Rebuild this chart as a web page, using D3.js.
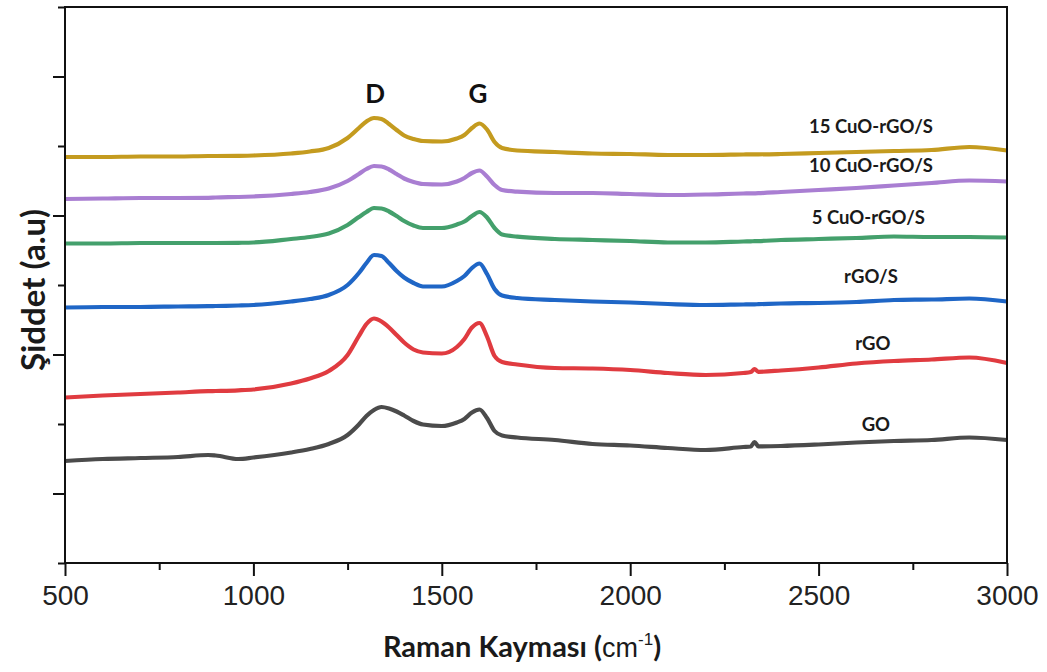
<!DOCTYPE html>
<html>
<head>
<meta charset="utf-8">
<script src="https://cdn.jsdelivr.net/npm/d3@7"></script>
<style>
  html, body { margin: 0; padding: 0; background: #fff; }
  svg { display: block; }
</style>
</head>
<body>
<svg id="chart" width="1047" height="672"></svg>
<script>
// Raman shift sampling points (cm^-1), shared by every spectrum
const wavenumbers = [500, 600, 700, 800, 880, 900, 960, 1000, 1100, 1150, 1200, 1250, 1280, 1300, 1320, 1340, 1360, 1380, 1400, 1425, 1450, 1500, 1540, 1560, 1580, 1600, 1620, 1640, 1660, 1700, 1800, 1900, 2000, 2100, 2200, 2300, 2320, 2330, 2340, 2400, 2500, 2600, 2700, 2800, 2900, 3000];

// Stacked intensities (a.u.) for each sample
const cuo15 = [406, 406, 406.5, 406.5, 407, 407, 407.2, 407.5, 409.5, 411.5, 415, 425, 435, 441.5, 445, 444, 439, 433, 427.5, 424, 422, 421.5, 424.5, 428, 435, 439.5, 433.5, 421, 415, 412.5, 411, 409.5, 409, 408, 408, 408.5, 408.6, 408.7, 408.7, 409, 410, 411, 412, 413, 416, 412.5];
const cuo10 = [364, 364.5, 365, 365, 365.2, 365.5, 366, 366.5, 369, 371, 374.5, 382, 389, 394, 397, 396.5, 393.5, 389, 384.5, 381, 379, 378.5, 381.5, 385, 390, 392.5, 386.5, 378, 373, 371.3, 370, 370, 369, 368, 368.5, 369.5, 369.6, 369.7, 369.8, 371, 373, 375, 377.5, 380, 382.5, 381.5];
const cuo5 = [319.5, 319.5, 320, 320, 320, 320, 320.2, 320.5, 324, 326, 329.5, 338, 346, 351, 355, 354.5, 351.5, 347, 342, 337.5, 335, 335, 338.5, 341.5, 347, 351, 345.5, 335, 328.5, 326.3, 324, 323, 322, 320.5, 320.5, 321.5, 321.7, 321.8, 321.9, 323, 324, 325, 326.5, 326, 326, 325.5];
const rgoS = [255.5, 256, 256, 256.5, 256.8, 257, 257.5, 258, 261.5, 264, 268, 278, 290, 300, 308, 307, 300, 292, 285.5, 280, 276.5, 276.5, 282, 287, 295, 299.5, 289, 274, 267.5, 265, 263, 261.5, 260.5, 259, 258, 258.5, 258.6, 258.7, 258.8, 259.5, 260, 261, 263, 263.5, 264.5, 261.5];
const rgo = [165.5, 167.5, 169, 170.5, 171.8, 172, 172.7, 173.5, 179.5, 184.5, 192, 208, 227, 239, 244.5, 241.5, 235.5, 228, 220.5, 213.5, 210.5, 209.5, 216, 224, 235.5, 240, 226.5, 207, 201, 198.5, 195, 194.5, 193, 190, 188, 190, 191, 194, 191.2, 192.5, 195.5, 199.5, 202, 203.5, 205.5, 200];
const go = [102, 104, 105, 106, 108, 107.5, 104, 105.5, 110.5, 114, 119, 128, 138.5, 147, 153, 156, 154.5, 151.5, 147.5, 142, 138.5, 137, 140.5, 144, 150.5, 153.5, 145, 132, 127.5, 125.5, 123, 119, 117.5, 115, 113, 116, 116.5, 121, 116.7, 117, 118.5, 120.5, 122, 123, 125.5, 123];

const seriesNames = ["15 CuO-rGO/S", "10 CuO-rGO/S", "5 CuO-rGO/S", "rGO/S", "rGO", "GO"];
const seriesValues = [cuo15, cuo10, cuo5, rgoS, rgo, go];
const seriesColors = ["#c49b1f", "#a97ed2", "#44a06c", "#1f66c6", "#e03b40", "#4b4b4b"];
// Where each series label sits: [Raman shift, intensity of baseline]
const labelAnchors = [[2639, 430], [2639, 391], [2632, 339], [2639, 280], [2644, 213], [2652, 132]];

// Band markers
const bandNames = ["D", "G"];
const bandPositions = [1323, 1596];

const xTicks = [500, 1000, 1500, 2000, 2500, 3000];
const xMinorTicks = [750, 1250, 1750, 2250, 2750];

const width = 1047, height = 672;
const margin = { top: 7, right: 40, bottom: 109, left: 65 };
const yMax = 556;

const svg = d3.select("#chart");
const x = d3.scaleLinear().domain([500, 3000]).range([margin.left, width - margin.right]);
const y = d3.scaleLinear().domain([0, yMax]).range([height - margin.bottom, margin.top]);

const yMajor = d3.range(1, 8, 2).map(k => k * yMax / 8);
const yMinor = d3.range(0, 9, 2).map(k => k * yMax / 8);

// Spectra
const line = d3.line()
  .x((d, i) => x(wavenumbers[i]))
  .y(d => y(d))
  .curve(d3.curveMonotoneX);

svg.append("g")
  .selectAll("path")
  .data(seriesValues)
  .join("path")
  .attr("fill", "none")
  .attr("stroke", (d, i) => seriesColors[i])
  .attr("stroke-width", 4.2)
  .attr("stroke-linejoin", "round")
  .attr("d", line);

// Frame
const axisColor = "#111";
svg.append("rect")
  .attr("x", x(500)).attr("y", y(yMax))
  .attr("width", x(3000) - x(500)).attr("height", y(0) - y(yMax))
  .attr("fill", "none").attr("stroke", axisColor).attr("stroke-width", 2);

// Bottom axis: labelled major ticks plus unlabelled minor ticks
const xAxis = svg.append("g").attr("transform", `translate(0,${y(0)})`)
  .call(d3.axisBottom(x).tickValues(xTicks).tickSize(13).tickPadding(9).tickFormat(d3.format("d")));
xAxis.select(".domain").remove();
xAxis.selectAll(".tick line").attr("stroke", axisColor).attr("stroke-width", 2);
xAxis.selectAll(".tick text")
  .attr("font-family", "'Liberation Sans', Arial, sans-serif")
  .attr("font-size", 28).attr("fill", "#222");

const xMinor = svg.append("g").attr("transform", `translate(0,${y(0)})`)
  .call(d3.axisBottom(x).tickValues(xMinorTicks).tickSize(7).tickFormat(""));
xMinor.select(".domain").remove();
xMinor.selectAll(".tick line").attr("stroke", axisColor).attr("stroke-width", 2);

// Left axis: ticks only
const yAxisMajor = svg.append("g").attr("transform", `translate(${x(500)},0)`)
  .call(d3.axisLeft(y).tickValues(yMajor).tickSize(12).tickFormat(""));
yAxisMajor.select(".domain").remove();
yAxisMajor.selectAll(".tick line").attr("stroke", axisColor).attr("stroke-width", 2);

const yAxisMinor = svg.append("g").attr("transform", `translate(${x(500)},0)`)
  .call(d3.axisLeft(y).tickValues(yMinor).tickSize(7).tickFormat(""));
yAxisMinor.select(".domain").remove();
yAxisMinor.selectAll(".tick line").attr("stroke", axisColor).attr("stroke-width", 2);

const boldFont = "Lato, 'Open Sans', sans-serif";

// Series labels
svg.append("g")
  .selectAll("text")
  .data(seriesNames)
  .join("text")
  .attr("x", (d, i) => x(labelAnchors[i][0]))
  .attr("y", (d, i) => y(labelAnchors[i][1]))
  .attr("text-anchor", "middle")
  .attr("font-family", boldFont)
  .attr("font-weight", "bold")
  .attr("font-size", 18.5)
  .attr("fill", "#1a1a1a")
  .text(d => d);

// D and G band labels
svg.append("g")
  .selectAll("text")
  .data(bandNames)
  .join("text")
  .attr("x", (d, i) => x(bandPositions[i]))
  .attr("y", y(460))
  .attr("text-anchor", "middle")
  .attr("font-family", boldFont)
  .attr("font-weight", "bold")
  .attr("font-size", 26)
  .attr("fill", "#111")
  .text(d => d);

// Axis titles
const xTitle = svg.append("text")
  .attr("x", (x(500) + x(3000)) / 2 - 14)
  .attr("y", 657)
  .attr("text-anchor", "middle")
  .attr("fill", "#1a1a1a");
xTitle.append("tspan").attr("font-family", boldFont).attr("font-weight", "bold").attr("font-size", 29).text("Raman Kayması (");
xTitle.append("tspan").attr("font-family", "'Liberation Sans', Arial, sans-serif").attr("font-size", 27).text("cm");
xTitle.append("tspan").attr("font-family", "'Liberation Sans', Arial, sans-serif").attr("font-size", 17).attr("dy", -12).text("-1");
xTitle.append("tspan").attr("font-family", boldFont).attr("font-weight", "bold").attr("font-size", 29).attr("dy", 12).text(")");

svg.append("text")
  .attr("transform", `translate(45,${(y(0) + y(yMax)) / 2 + 5}) rotate(-90)`)
  .attr("text-anchor", "middle")
  .attr("font-family", boldFont)
  .attr("font-weight", "bold")
  .attr("font-size", 33)
  .attr("fill", "#1a1a1a")
  .text("Şiddet (a.u)");
</script>
</body>
</html>
